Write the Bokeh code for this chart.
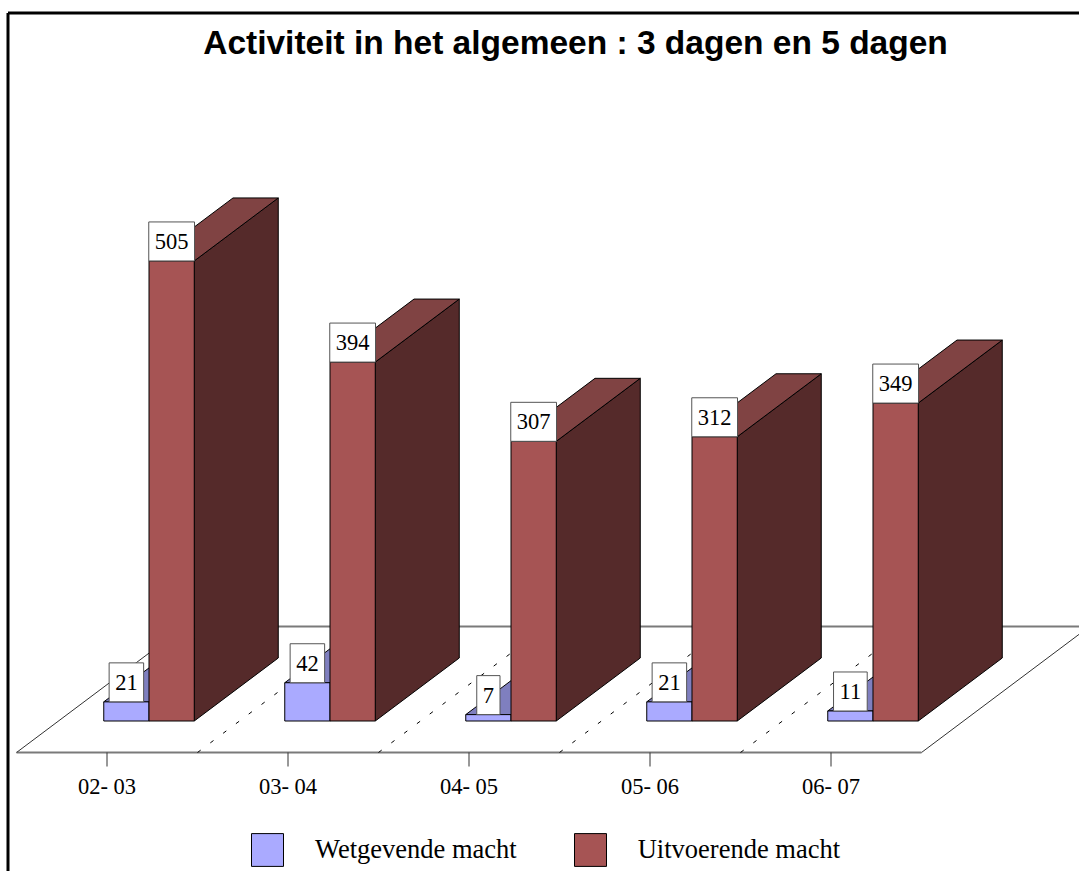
from bokeh.plotting import figure
from bokeh.models import Range1d, ColumnDataSource, Legend, LegendItem, Label
from bokeh.core.properties import value
from bokeh.embed import file_html
from bokeh.resources import INLINE

# ---------------- data ----------------
categories = ["02- 03", "03- 04", "04- 05", "05- 06", "06- 07"]
wetgevende = [21, 42, 7, 21, 11]
uitvoerende = [505, 394, 307, 312, 349]
series_names = ["Wetgevende macht", "Uitvoerende macht"]
title_text = "Activiteit in het algemeen : 3 dagen en 5 dagen"

# ---------------- layout (pixels) ----------------
W, H = 1079, 871
PX_CAT = 181.0      # px per category
PX_VAL = 0.911      # px per value unit
X0_PX = 106.5       # px (from left) of category 0 on the floor front edge
Y0_PX = H - 752.0   # px (from bottom) of the floor front edge

DX = 168.0 / PX_CAT   # full floor depth, in category units
DY = 126.0 / PX_VAL   # full floor depth, in value units
D_FRONT, D_BACK = 0.25, 0.75
BAR_W = 0.25

SERIF = "Liberation Serif"
SANS = "Liberation Sans"

p = figure(width=W, height=H,
           x_range=Range1d(-X0_PX / PX_CAT, (W - X0_PX) / PX_CAT),
           y_range=Range1d(-Y0_PX / PX_VAL, (H - Y0_PX) / PX_VAL),
           output_backend="svg", toolbar_location=None, min_border=0,
           x_axis_location=None, y_axis_location=None)
p.grid.visible = False
p.outline_line_color = None
p.background_fill_color = "white"
p.border_fill_color = "white"


def proj(x, v, d):
    return x + d * DX, v + d * DY


n = len(categories)

# ---------------- floor ----------------
fl = [proj(-0.5, 0, 0), proj(n - 0.5, 0, 0), proj(n - 0.5, 0, 1), proj(-0.5, 0, 1)]
p.patch([q[0] for q in fl], [q[1] for q in fl], fill_color="white", line_color=None)
p.line([fl[0][0], fl[1][0]], [fl[0][1], fl[1][1]], line_color="#7a7a7a", line_width=2)
p.line([fl[3][0], fl[2][0]], [fl[3][1], fl[2][1]], line_color="#7a7a7a", line_width=2)
p.line([fl[0][0], fl[3][0]], [fl[0][1], fl[3][1]], line_color="#333333", line_width=1)
p.line([fl[1][0], fl[2][0]], [fl[1][1], fl[2][1]], line_color="#333333", line_width=1)

# category separators (dashed) on the floor
sx0, sy0, sx1, sy1 = [], [], [], []
for k in range(n - 1):
    a = proj(k + 0.5, 0, 0)
    b = proj(k + 0.5, 0, 1)
    sx0.append(a[0]); sy0.append(a[1]); sx1.append(b[0]); sy1.append(b[1])
p.segment(sx0, sy0, sx1, sy1, line_color="black", line_width=1, line_dash="4 12")

# ticks + tick labels
TICK = 14.0 / PX_VAL
p.segment(list(range(n)), [0] * n, list(range(n)), [-TICK] * n, line_color="#333333", line_width=1)
p.text(x=list(range(n)), y=[-34.0 / PX_VAL] * n, text=categories,
       text_font=value(SERIF), text_font_size="22.5px", text_color="black",
       text_align="center", text_baseline="middle")

# ---------------- bars ----------------
palette = {
    0: ("#aaaaff", "#7f7fbf", "#6f6fb0"),   # front, top, side
    1: ("#a65454", "#804343", "#552a2a"),
}
xs, ys, fills = [], [], []


def face(pts, color):
    pr = [proj(*q) for q in pts]
    xs.append([q[0] for q in pr]); ys.append([q[1] for q in pr]); fills.append(color)


front_index = {}
for k in range(n):
    for s, vals in enumerate([wetgevende, uitvoerende]):
        cf, ct, cs = palette[s]
        x0 = k - BAR_W if s == 0 else k
        x1 = x0 + BAR_W
        v = vals[k]
        face([(x1, 0, D_FRONT), (x1, 0, D_BACK), (x1, v, D_BACK), (x1, v, D_FRONT)], cs)
        face([(x0, v, D_FRONT), (x1, v, D_FRONT), (x1, v, D_BACK), (x0, v, D_BACK)], ct)
        front_index.setdefault(s, len(xs))
        face([(x0, 0, D_FRONT), (x1, 0, D_FRONT), (x1, v, D_FRONT), (x0, v, D_FRONT)], cf)

src = ColumnDataSource(dict(xs=xs, ys=ys, fill=fills))
bars = p.patches("xs", "ys", source=src, fill_color="fill", line_color="black", line_width=1)

# ---------------- value labels ----------------
lx, ly, lt = [], [], []
for k in range(n):
    for s, vals in enumerate([wetgevende, uitvoerende]):
        cx = k - BAR_W / 2 if s == 0 else k + BAR_W / 2
        x, y = proj(cx, vals[k], D_FRONT)
        lx.append(x); ly.append(y); lt.append(str(vals[k]))
p.text(x=lx, y=ly, text=lt, text_font=value(SERIF), text_font_size="22.5px",
       text_color="black", text_align="center", text_baseline="bottom",
       background_fill_color="white", border_line_color="#555555", border_line_width=1,
       padding=(6, 12))

# ---------------- frame lines (left and top) ----------------
lxp = (7.5 - X0_PX) / PX_CAT
typ = (H - 12.5 - Y0_PX) / PX_VAL
p.line([lxp, lxp], [-Y0_PX / PX_VAL - 5, typ], line_color="black", line_width=3)
p.line([lxp, (W - X0_PX) / PX_CAT + 1], [typ, typ], line_color="black", line_width=3)

# ---------------- title ----------------
p.add_layout(Label(x=575, y=H - 42, x_units="screen", y_units="screen", text=title_text,
                   text_font=SANS, text_font_size="33.5px", text_font_style="bold",
                   text_color="black", text_align="center", text_baseline="middle"))

# ---------------- legend ----------------
legend = Legend(items=[LegendItem(label=series_names[0], renderers=[bars], index=front_index[0]),
                       LegendItem(label=series_names[1], renderers=[bars], index=front_index[1])],
                location=(247, 1), orientation="horizontal",
                glyph_width=40, glyph_height=41, label_standoff=28, spacing=53,
                padding=0, margin=0, border_line_color=None, background_fill_alpha=0,
                label_text_font=SERIF, label_text_font_size="26.5px", label_text_color="black")
p.add_layout(legend, "center")

open("out.html", "w").write(file_html(p, INLINE))
